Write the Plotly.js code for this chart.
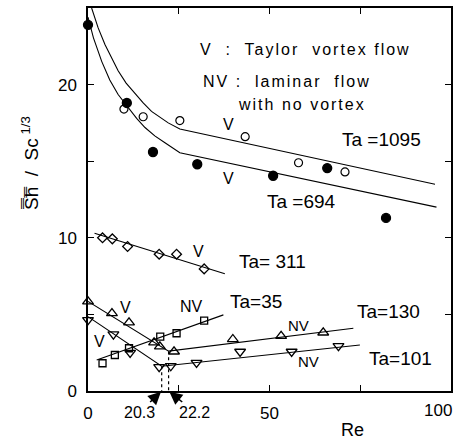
<!DOCTYPE html>
<html>
<head>
<meta charset="utf-8">
<script src="https://cdn.plot.ly/plotly-3.0.1.min.js"></script>
<style>html,body{margin:0;padding:0;background:#fff;}#chart{width:457px;height:442px;}</style>
</head>
<body>
<div id="chart"></div>
<script>
// Measured points
const ta1095_re = [9.9, 15.2, 25.3, 43.3, 58.0, 70.8];
const ta1095_y  = [18.4, 17.9, 17.65, 16.6, 14.9, 14.3];
const ta694_re  = [0, 10.7, 17.9, 30.1, 51.0, 65.9, 82.1];
const ta694_y   = [23.9, 18.8, 15.6, 14.8, 14.05, 14.55, 11.3];
const ta311_re  = [4.0, 6.7, 10.9, 19.6, 24.4, 32.0];
const ta311_y   = [10.0, 9.93, 9.43, 8.93, 8.93, 7.97];
const ta35_re   = [4.0, 7.4, 11.3, 19.9, 24.4, 32.0];
const ta35_y    = [1.81, 2.35, 2.79, 3.55, 3.77, 4.6];
const ta130_re  = [0, 6.6, 11.3, 18.2, 19.8, 23.7, 39.9, 53.2, 64.8];
const ta130_y   = [5.84, 5.07, 4.47, 3.16, 2.9, 2.57, 3.38, 3.59, 3.81];
const ta101_re  = [0, 7.0, 11.6, 19.6, 22.8, 29.9, 41.9, 56.1, 69.0];
const ta101_y   = [4.64, 3.7, 2.5, 1.57, 1.63, 1.85, 2.57, 2.57, 2.94];

// Correlation curves
const fit1095_re = [1.0, 2.8, 4.7, 6.5, 8.3, 10.5, 12.9, 15.2, 17.5, 19.8, 22.1, 25.3, 95.6];
const fit1095_y  = [25.0, 23.7, 22.6, 21.7, 20.9, 20.1, 19.4, 18.8, 18.25, 17.85, 17.5, 17.1, 13.5];
const fit694_re  = [0, 1.5, 3.8, 6.0, 8.3, 11.1, 13.4, 15.7, 18.4, 21.2, 25.3, 96];
const fit694_y   = [24.4, 23.05, 21.5, 20.3, 19.35, 18.5, 17.8, 17.2, 16.65, 16.2, 15.55, 12.0];
const fit311_re  = [1.8, 37.7];
const fit311_y   = [10.3, 7.65];
const fit35_re   = [2.4, 37.3];
const fit35_y    = [2.03, 4.97];
const fit130_re  = [0, 22.2, 73.1];
const fit130_y   = [5.85, 2.6, 4.1];
const fit101_re  = [0, 20.3, 74.9];
const fit101_y   = [4.85, 1.62, 3.0];

// Transition Reynolds numbers
const trans_re = [20.3, 22.2];
const trans_y  = [1.62, 2.6];
const trans_lbl = ['20.3', '22.2'];

const xTicks = [0, 50];
const xTickText = ['0', '50'];
const xLastLabel = '100';
const yTicks = [0, 10, 20];
const yTickText = ['0', '10', '20'];

const FONT = 'Liberation Sans, Arial, sans-serif';
const lineT = (x, y) => ({x, y, mode: 'lines', line: {color: '#000', width: 1.1}, hoverinfo: 'skip', showlegend: false});
const markT = (x, y, sym, size, lw) => ({x, y, mode: 'markers', marker: {symbol: sym, size: size, color: '#000', line: {color: '#000', width: lw || 1.3}}, showlegend: false, cliponaxis: false});

const traces = [
  lineT(fit1095_re, fit1095_y),
  lineT(fit694_re, fit694_y),
  lineT(fit311_re, fit311_y),
  lineT(fit35_re, fit35_y),
  lineT(fit130_re, fit130_y),
  lineT(fit101_re, fit101_y),
];
trans_re.forEach((r, i) => {
  traces.push({x: [r, r], y: [trans_y[i], 0], mode: 'lines', line: {color: '#000', width: 1.2, dash: 'dot'}, showlegend: false});
});
traces.push(
  markT(ta1095_re, ta1095_y, 'circle-open', 8, 1.2),
  markT(ta694_re, ta694_y, 'circle', 9),
  markT(ta311_re, ta311_y, 'diamond-open', 7.5),
  markT(ta35_re, ta35_y, 'square-open', 7),
  markT(ta130_re, ta130_y, 'triangle-up-open', 9.5),
  markT(ta101_re, ta101_y, 'triangle-down-open', 9.5)
);

const ann = (x, y, text, size, xanchor) => ({x, y, xref: 'x', yref: 'y', text, showarrow: false, xanchor: xanchor || 'center', yanchor: 'middle', font: {family: FONT, size: size, color: '#000'}});

const annotations = [
  ann(37.2, 22.3, 'V  :  Taylor  vortex flow', 16, 'left'),
  ann(36.4, 20.2, 'NV :  laminar  flow', 16, 'left'),
  ann(44.6, 18.7, 'with no vortex', 16, 'left'),
  ann(69.4, 16.4, 'Ta =1095', 19, 'left'),
  ann(48.8, 12.4, 'Ta =694', 19, 'left'),
  ann(38.6, 17.4, 'V', 16),
  ann(38.6, 13.9, 'V', 16),
  ann(30.4, 9.1, 'V', 16),
  ann(41.0, 8.45, 'Ta= 311', 19, 'left'),
  ann(38.6, 5.84, 'Ta=35', 19, 'left'),
  ann(73.6, 5.18, 'Ta=130', 19, 'left'),
  ann(76.9, 2.14, 'Ta=101', 19, 'left'),
  ann(57.9, 4.25, 'NV', 15),
  ann(60.7, 1.92, 'NV', 15),
  ann(28.4, 5.51, 'NV', 16),
  ann(10.2, 5.47, 'V', 16),
  ann(3.3, 3.22, 'V', 16),
  {x: trans_re[0], y: 0, xref: 'x', yref: 'y', text: trans_lbl[0], showarrow: true, ax: -22, ay: 21, arrowhead: 2, arrowsize: 1.6, arrowwidth: 1.6, standoff: 1, arrowcolor: '#000', font: {family: FONT, size: 16, color: '#000'}},
  {x: trans_re[1], y: 0, xref: 'x', yref: 'y', text: trans_lbl[1], showarrow: true, ax: 26, ay: 21, arrowhead: 2, arrowsize: 1.6, arrowwidth: 1.6, standoff: 1, arrowcolor: '#000', font: {family: FONT, size: 16, color: '#000'}},
  {x: 100, y: -0.05, xref: 'x', yref: 'paper', text: xLastLabel, showarrow: false, xanchor: 'right', yanchor: 'middle', xshift: 3, font: {family: FONT, size: 17, color: '#000'}},
  {x: 73, y: -0.102, xref: 'x', yref: 'paper', text: 'Re', showarrow: false, xanchor: 'center', yanchor: 'middle', font: {family: FONT, size: 18, color: '#000'}},
  {x: -0.16, y: 0.595, xref: 'paper', yref: 'paper', text: 'S\u033Fh\u033F  /  Sc<sup> 1/3</sup>', textangle: -90, showarrow: false, xanchor: 'center', yanchor: 'middle', font: {family: FONT, size: 19, color: '#000'}}
];
const spacedIdx = [0, 1, 2];

const axisCommon = {showline: true, linecolor: '#000', linewidth: 1.6, mirror: 'ticks', ticks: 'inside', ticklen: 6, tickwidth: 1.2, tickcolor: '#000', showgrid: false, zeroline: false, tickfont: {family: FONT, size: 17, color: '#000'}};

const layout = {
  width: 457, height: 442,
  margin: {l: 88, r: 6, t: 8, b: 51},
  paper_bgcolor: '#fff', plot_bgcolor: '#fff',
  showlegend: false,
  xaxis: Object.assign({}, axisCommon, {range: [0, 100], tickmode: 'array', tickvals: xTicks, ticktext: xTickText, ticklabelstandoff: 6,
    minor: {tick0: 0, dtick: 25, ticks: 'inside', ticklen: 6, tickwidth: 1.2, tickcolor: '#000', showgrid: false}}),
  yaxis: Object.assign({}, axisCommon, {range: [0, 25], tickmode: 'array', tickvals: yTicks, ticktext: yTickText, ticklabelstandoff: 6,
    minor: {tick0: 0, dtick: 5, ticks: 'inside', ticklen: 6, tickwidth: 1.2, tickcolor: '#000', showgrid: false}}),
  annotations: annotations
};

Plotly.newPlot('chart', traces, layout, {staticPlot: true, displayModeBar: false}).then(gd => {
  const groups = gd.querySelectorAll('.annotation');
  groups.forEach(g => {
    const idx = +g.getAttribute('data-index');
    if (spacedIdx.includes(idx)) {
      const t = g.querySelector('.annotation-text');
      if (t) t.style.letterSpacing = '2px';
    }
  });
});
</script>
</body>
</html>
